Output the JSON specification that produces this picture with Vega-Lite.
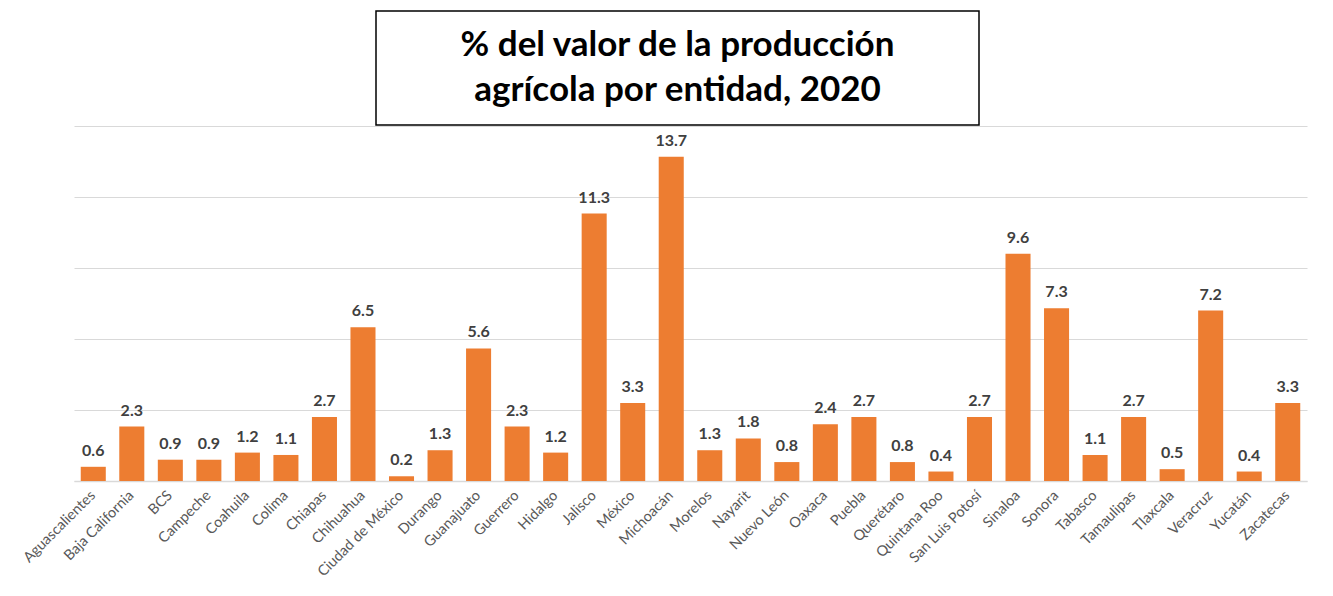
{
  "$schema": "https://vega.github.io/schema/vega-lite/v6.json",
  "padding": {"left": 20, "top": 10, "right": 5, "bottom": 0},
  "background": "white",
  "spacing": -2,
  "config": {"font": "Lato"},
  "vconcat": [
    {
      "spacing": 0,
      "hconcat": [
        {
          "width": 301,
          "height": 114,
          "view": {"stroke": null},
          "data": {"values": [{"t": ""}]},
          "mark": {"type": "text", "opacity": 0},
          "encoding": {"text": {"field": "t", "type": "nominal"}}
        },
        {
          "width": 603,
          "height": 114,
          "view": {"stroke": "#000000", "strokeWidth": 1.5, "fill": "white"},
          "data": {"values": [{"t": "% del valor de la producción\nagrícola por entidad, 2020"}]},
          "mark": {"type": "text", "lineBreak": "\n", "fontSize": 35, "fontWeight": "bold", "lineHeight": 45, "font": "Lato", "color": "#000000", "dy": -23},
          "encoding": {"text": {"field": "t", "type": "nominal"}}
        }
      ]
    },
    {
      "width": 1233,
      "height": 355,
      "view": {"stroke": null},
      "data": {"values": [
        {"entidad": "Aguascalientes", "valor": 0.6},
        {"entidad": "Baja California", "valor": 2.3},
        {"entidad": "BCS", "valor": 0.9},
        {"entidad": "Campeche", "valor": 0.9},
        {"entidad": "Coahuila", "valor": 1.2},
        {"entidad": "Colima", "valor": 1.1},
        {"entidad": "Chiapas", "valor": 2.7},
        {"entidad": "Chihuahua", "valor": 6.5},
        {"entidad": "Ciudad de México", "valor": 0.2},
        {"entidad": "Durango", "valor": 1.3},
        {"entidad": "Guanajuato", "valor": 5.6},
        {"entidad": "Guerrero", "valor": 2.3},
        {"entidad": "Hidalgo", "valor": 1.2},
        {"entidad": "Jalisco", "valor": 11.3},
        {"entidad": "México", "valor": 3.3},
        {"entidad": "Michoacán", "valor": 13.7},
        {"entidad": "Morelos", "valor": 1.3},
        {"entidad": "Nayarit", "valor": 1.8},
        {"entidad": "Nuevo León", "valor": 0.8},
        {"entidad": "Oaxaca", "valor": 2.4},
        {"entidad": "Puebla", "valor": 2.7},
        {"entidad": "Querétaro", "valor": 0.8},
        {"entidad": "Quintana Roo", "valor": 0.4},
        {"entidad": "San Luis Potosí", "valor": 2.7},
        {"entidad": "Sinaloa", "valor": 9.6},
        {"entidad": "Sonora", "valor": 7.3},
        {"entidad": "Tabasco", "valor": 1.1},
        {"entidad": "Tamaulipas", "valor": 2.7},
        {"entidad": "Tlaxcala", "valor": 0.5},
        {"entidad": "Veracruz", "valor": 7.2},
        {"entidad": "Yucatán", "valor": 0.4},
        {"entidad": "Zacatecas", "valor": 3.3}
      ]},
      "encoding": {
        "x": {
          "field": "entidad", "type": "nominal", "sort": null,
          "scale": {"paddingInner": 0.35, "paddingOuter": 0.175},
          "axis": {"title": null, "labelAngle": -45, "labelAlign": "right", "labelBaseline": "middle", "labelPadding": 12, "ticks": false, "domainColor": "#D9D9D9", "domainWidth": 1.5, "labelColor": "#595959", "labelFont": "Lato", "labelFontSize": 14.5}
        },
        "y": {
          "field": "valor", "type": "quantitative",
          "scale": {"domain": [0, 15], "nice": false},
          "axis": {"title": null, "labels": false, "ticks": false, "domain": false, "grid": true, "gridColor": "#D9D9D9", "gridWidth": 1.2, "values": [0, 3, 6, 9, 12, 15]}
        }
      },
      "layer": [
        {"mark": {"type": "bar", "color": "#ED7D31"}},
        {
          "mark": {"type": "text", "baseline": "bottom", "dy": -8, "fontSize": 16, "fontWeight": "bold", "color": "#404040", "font": "Lato"},
          "encoding": {"text": {"field": "valor", "type": "quantitative", "format": ".1f"}}
        }
      ]
    }
  ]
}
